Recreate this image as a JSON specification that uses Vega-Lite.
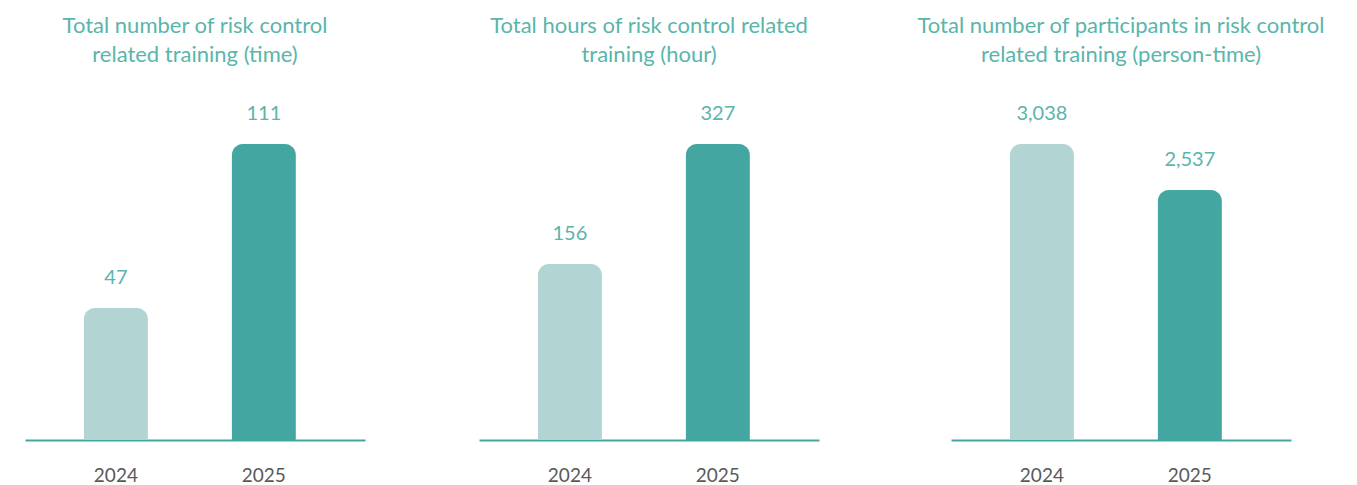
{
  "$schema": "https://vega.github.io/schema/vega-lite/v6.json",
  "autosize": {"type": "pad"},
  "padding": {"left": 25, "top": 15, "right": 5, "bottom": 0},
  "background": "white",
  "bounds": "full",
  "spacing": 98,
  "datasets": {
    "training": [
      {"metric": "times", "year": "2024", "value": 47},
      {"metric": "times", "year": "2025", "value": 111},
      {"metric": "hours", "year": "2024", "value": 156},
      {"metric": "hours", "year": "2025", "value": 327},
      {"metric": "people", "year": "2024", "value": 3038},
      {"metric": "people", "year": "2025", "value": 2537}
    ]
  },
  "config": {
    "view": {"stroke": null},
    "font": "Lato",
    "title": {"fontSize": 22, "fontWeight": "normal", "color": "#5ab5ab", "lineHeight": 29, "anchor": "middle", "offset": 37},
    "axisX": {"domainColor": "#43a6a0", "domainWidth": 2, "ticks": false, "labelFontSize": 19, "labelColor": "#595959", "labelPadding": 26, "labelAngle": 0, "title": null, "grid": false},
    "bar": {"cornerRadiusTopLeft": 11, "cornerRadiusTopRight": 11}
  },
  "hconcat": [
    {
      "bounds": "flush",
      "spacing": 114,
      "hconcat": [
        {
          "title": {"text": ["Total number of risk control", "related training (time)"]},
          "width": 340, "height": 296,
          "data": {"name": "training"},
          "transform": [{"filter": "datum.metric === 'times'"}],
          "encoding": {
            "x": {"field": "year", "type": "nominal", "scale": {"paddingInner": 0.568, "paddingOuter": 0.433, "align": 0.46}},
            "y": {"field": "value", "type": "quantitative", "axis": null, "scale": {"domain": [-4.5, 111], "nice": false, "zero": false}}
          },
          "layer": [
            {"mark": {"type": "bar"}, "encoding": {"y2": {"datum": -4.5}, "color": {"field": "year", "type": "nominal", "scale": {"domain": ["2024", "2025"], "range": ["#b2d4d2", "#43a6a0"]}, "legend": null}}},
            {"mark": {"type": "text", "dy": -24, "baseline": "alphabetic", "fontSize": 20, "color": "#5ab5ab"}, "encoding": {"text": {"field": "value", "type": "quantitative", "format": ","}}}
          ]
        },
        {
          "title": {"text": ["Total hours of risk control related", "training (hour)"]},
          "width": 340, "height": 296,
          "data": {"name": "training"},
          "transform": [{"filter": "datum.metric === 'hours'"}],
          "encoding": {
            "x": {"field": "year", "type": "nominal", "scale": {"paddingInner": 0.568, "paddingOuter": 0.433, "align": 0.46}},
            "y": {"field": "value", "type": "quantitative", "axis": null, "scale": {"domain": [-95, 327], "nice": false, "zero": false}}
          },
          "layer": [
            {"mark": {"type": "bar"}, "encoding": {"y2": {"datum": -95}, "color": {"field": "year", "type": "nominal", "scale": {"domain": ["2024", "2025"], "range": ["#b2d4d2", "#43a6a0"]}, "legend": null}}},
            {"mark": {"type": "text", "dy": -24, "baseline": "alphabetic", "fontSize": 20, "color": "#5ab5ab"}, "encoding": {"text": {"field": "value", "type": "quantitative", "format": ","}}}
          ]
        }
      ],
      "resolve": {"scale": {"y": "independent", "x": "independent"}}
    },
    {
      "title": {"text": ["Total number of participants in risk control", "related training (person-time)"]},
      "width": 340, "height": 296,
      "data": {"name": "training"},
      "transform": [{"filter": "datum.metric === 'people'"}],
      "encoding": {
        "x": {"field": "year", "type": "nominal", "scale": {"paddingInner": 0.568, "paddingOuter": 0.433, "align": 0.46}},
        "y": {"field": "value", "type": "quantitative", "axis": null, "scale": {"domain": [-186, 3038], "nice": false, "zero": false}}
      },
      "layer": [
        {"mark": {"type": "bar"}, "encoding": {"y2": {"datum": -186}, "color": {"field": "year", "type": "nominal", "scale": {"domain": ["2024", "2025"], "range": ["#b2d4d2", "#43a6a0"]}, "legend": null}}},
        {"mark": {"type": "text", "dy": -24, "baseline": "alphabetic", "fontSize": 20, "color": "#5ab5ab"}, "encoding": {"text": {"field": "value", "type": "quantitative", "format": ","}}}
      ]
    }
  ],
  "resolve": {"scale": {"y": "independent", "x": "independent"}}
}
